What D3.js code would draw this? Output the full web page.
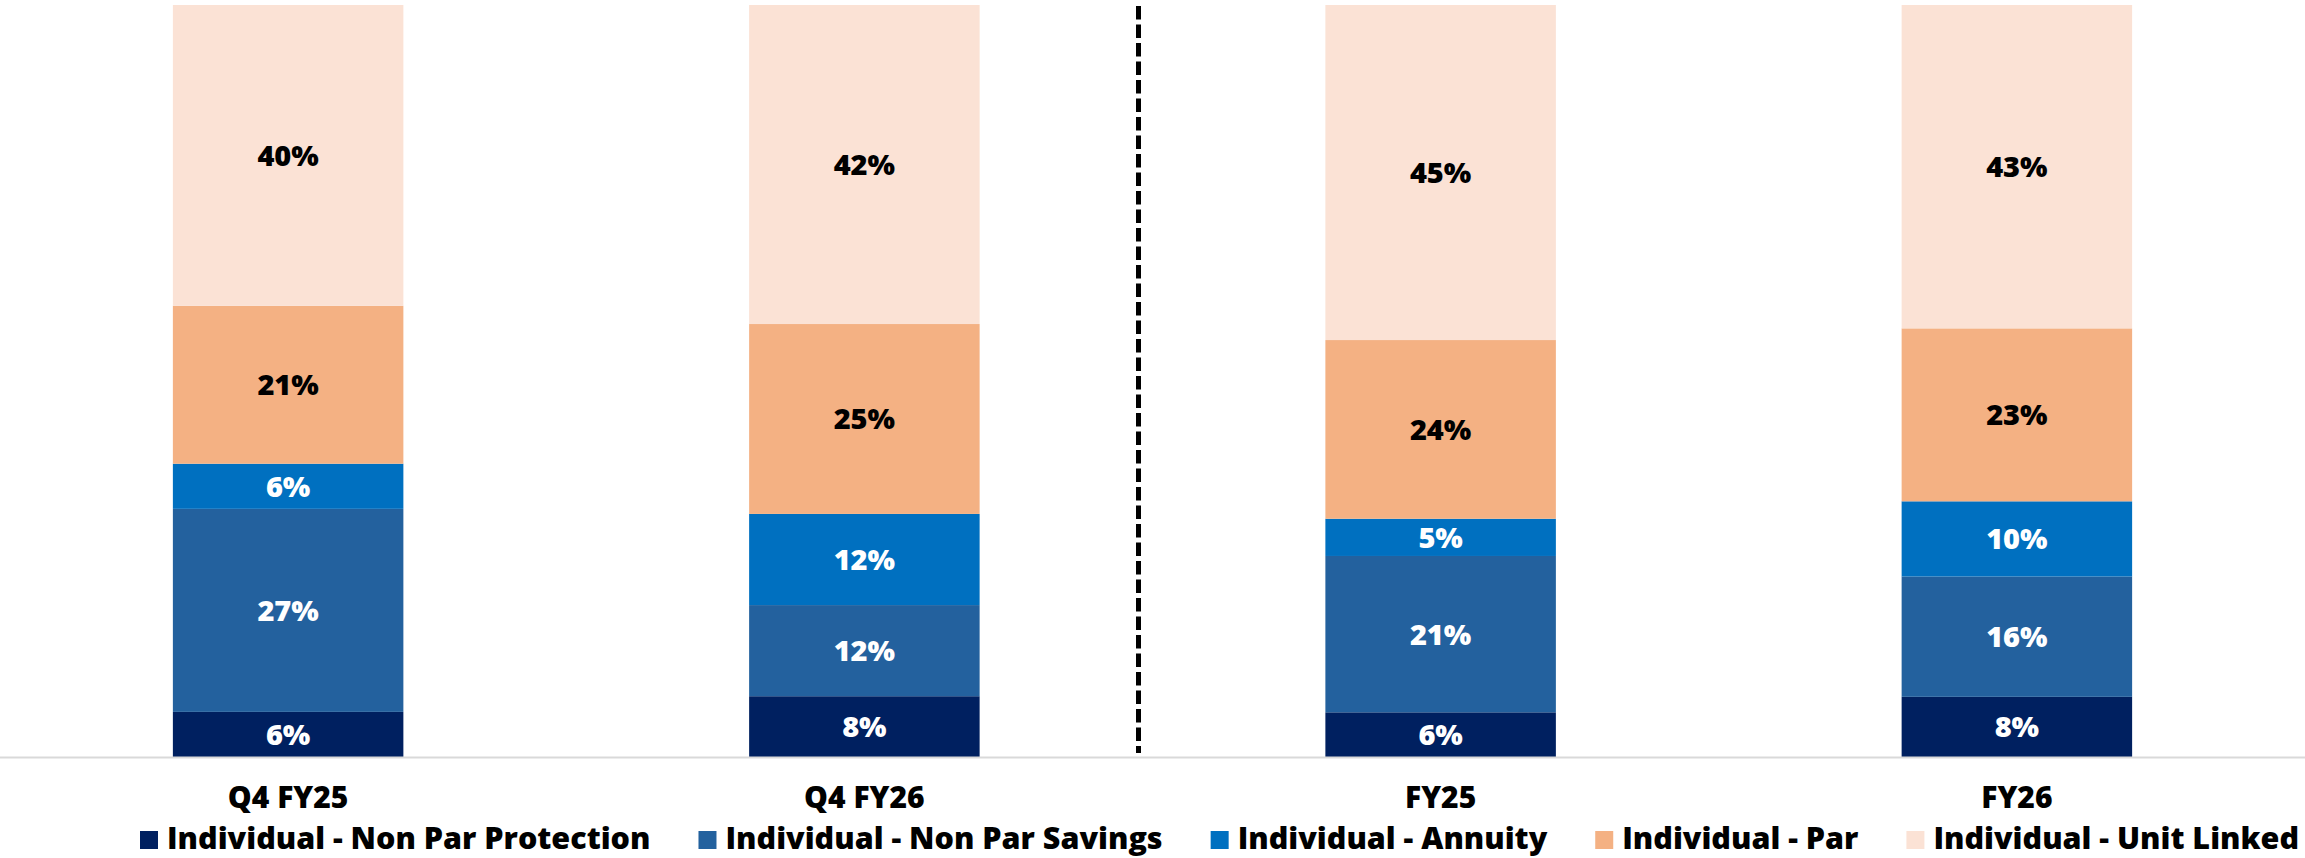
<!DOCTYPE html>
<html>
<head>
<meta charset="utf-8">
<script src="https://cdn.jsdelivr.net/npm/d3@7"></script>
<style>
  html, body { margin: 0; padding: 0; background: #ffffff; }
  svg { display: block; }
  text { font-family: "Open Sans", "DejaVu Sans", sans-serif; font-weight: 800; }
</style>
</head>
<body>
<svg id="chart" width="2305" height="858"></svg>
<script>
// Business mix by product segment (share of APE, %)
const categories = ["Q4 FY25", "Q4 FY26", "FY25", "FY26"];
const seriesNames = [
  "Individual - Non Par Protection",
  "Individual - Non Par Savings",
  "Individual - Annuity",
  "Individual - Par",
  "Individual - Unit Linked"
];
const nonParProtection = [6, 8, 6, 8];
const nonParSavings    = [27, 12, 21, 16];
const annuity          = [6, 12, 5, 10];
const par              = [21, 25, 24, 23];
const unitLinked       = [40, 42, 45, 43];

const seriesColors = ["#002060", "#23619e", "#0070c0", "#f4b183", "#fbe2d5"];
const labelColors  = ["#ffffff", "#ffffff", "#ffffff", "#000000", "#000000"];

const seriesValues = [nonParProtection, nonParSavings, annuity, par, unitLinked];
const rows = categories.map((c, i) => {
  const r = { category: c };
  seriesNames.forEach((s, k) => { r[s] = seriesValues[k][i]; });
  return r;
});

const W = 2305, H = 858;
const svg = d3.select("#chart");

const x = d3.scaleBand()
  .domain(categories)
  .range([0, W])
  .paddingInner(0.6)
  .paddingOuter(0.3);

const y = d3.scaleLinear().domain([0, 1]).range([757, 5]);

// each column is shown as a 100% stack
const stack = d3.stack().keys(seriesNames).offset(d3.stackOffsetExpand);
const layers = stack(rows);

const g = svg.append("g");

const layerG = g.selectAll("g.layer")
  .data(layers)
  .join("g")
  .attr("class", "layer")
  .attr("fill", (d, i) => seriesColors[i]);

layerG.selectAll("rect")
  .data(d => d)
  .join("rect")
  .attr("x", d => x(d.data.category))
  .attr("width", x.bandwidth())
  .attr("y", d => y(d[1]))
  .attr("height", d => y(d[0]) - y(d[1]));

// value labels centred in each segment
layers.forEach((layer, i) => {
  g.append("g")
    .selectAll("text")
    .data(layer)
    .join("text")
    .attr("x", d => x(d.data.category) + x.bandwidth() / 2)
    .attr("y", d => (y(d[0]) + y(d[1])) / 2)
    .attr("dy", "0.36em")
    .attr("text-anchor", "middle")
    .attr("font-size", 29)
    .attr("fill", labelColors[i])
    .text(d => d.data[layer.key] + "%");
});

// baseline / category axis
const axis = d3.axisBottom(x).tickSize(0).tickPadding(0);
const axisG = svg.append("g")
  .attr("transform", `translate(0,${y(0)})`)
  .call(axis);
axisG.select(".domain")
  .attr("d", `M0,0.5H${W}`)
  .attr("stroke", "#d9d9d9")
  .attr("stroke-width", 2);
axisG.selectAll(".tick text")
  .attr("y", 0)
  .attr("dy", 51)
  .attr("font-size", 30)
  .attr("font-family", "'Open Sans', sans-serif")
  .attr("font-weight", 800)
  .attr("fill", "#000");

// divider between quarterly and full-year columns
const divX = x(categories[1]) + x.bandwidth() + (x(categories[2]) - x(categories[1]) - x.bandwidth()) / 2 - 14;
svg.append("line")
  .attr("x1", divX).attr("x2", divX)
  .attr("y1", 6).attr("y2", 753)
  .attr("stroke", "#000")
  .attr("stroke-width", 5)
  .attr("stroke-dasharray", "13.5,5");

// legend: one row, swatch + label, fitted between the left margin and the right edge
const legendLeft = 140, legendRight = 2300, swatch = 18, textGap = 9, itemGap = 48;
const legend = svg.append("g").attr("class", "legend");
const baseSize = 31;
const items = seriesNames.map((name, i) => {
  const item = legend.append("g");
  item.append("rect")
    .attr("x", 0).attr("y", 831)
    .attr("width", swatch).attr("height", swatch)
    .attr("fill", seriesColors[i]);
  const t = item.append("text")
    .attr("x", swatch + textGap).attr("y", 849)
    .attr("font-size", baseSize)
    .attr("fill", "#000")
    .text(name);
  return { item, t };
});
const textTotal = d3.sum(items, d => d.t.node().getComputedTextLength());
const room = (legendRight - legendLeft) - seriesNames.length * (swatch + textGap) - (seriesNames.length - 1) * itemGap;
const fitSize = Math.min(baseSize, baseSize * room / textTotal);
let lx = legendLeft;
items.forEach(d => {
  d.t.attr("font-size", fitSize);
  d.item.attr("transform", `translate(${lx},0)`);
  lx += swatch + textGap + d.t.node().getComputedTextLength() + itemGap;
});
</script>
</body>
</html>
